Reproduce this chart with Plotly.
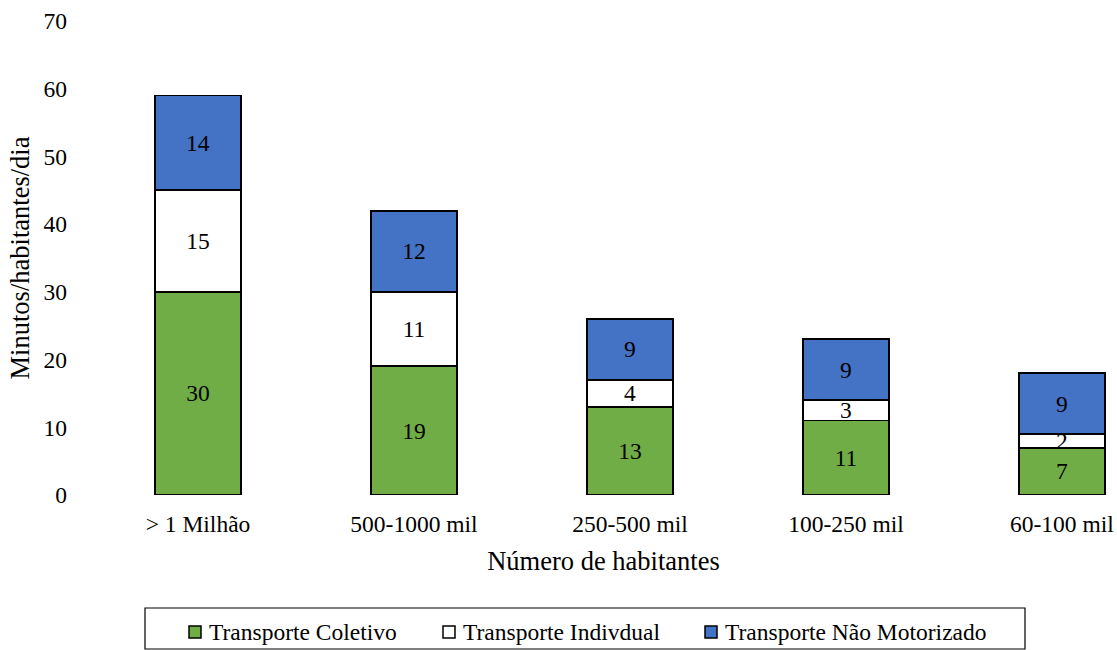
import plotly.graph_objects as go

# Population size classes
categories = ["> 1 Milhão", "500-1000 mil", "250-500 mil", "100-250 mil", "60-100 mil"]

# Minutes per inhabitant per day, by transport mode
coletivo = [30, 19, 13, 11, 7]
individual = [15, 11, 4, 3, 2]
nao_motorizado = [14, 12, 9, 9, 9]

series_names = ["Transporte Coletivo", "Transporte Indivdual", "Transporte Não Motorizado"]
series_values = [coletivo, individual, nao_motorizado]
series_colors = ["#70AD47", "#FFFFFF", "#4472C4"]

FONT = "Times New Roman, Liberation Serif, Tinos, DejaVu Serif, serif"
TICK_SIZE = 23.5
TITLE_SIZE = 26.5

W, H = 1117, 650
M_L, M_R, M_T, M_B = 90, 0, 21, 155
PLOT_W = W - M_L - M_R
PLOT_H = H - M_T - M_B


def px_x(px):
    return (px - M_L) / PLOT_W


def px_y(py):
    return (H - M_B - py) / PLOT_H


x_pos = list(range(len(categories)))

fig = go.Figure()
for name, values, color in zip(series_names, series_values, series_colors):
    fig.add_trace(go.Bar(
        x=x_pos,
        y=values,
        name=name,
        width=0.4,
        marker=dict(color=color, line=dict(color="black", width=1.8)),
        text=[str(v) for v in values],
        textposition="inside",
        insidetextanchor="middle",
        textangle=0,
        constraintext="none",
        textfont=dict(family=FONT, size=TICK_SIZE, color="black"),
        cliponaxis=False,
        showlegend=False,
    ))

# Legend drawn as a framed row of swatches and labels under the x-axis title
shapes = [dict(
    type="rect", xref="paper", yref="paper",
    x0=px_x(145), x1=px_x(1025), y0=px_y(608), y1=px_y(649),
    line=dict(color="black", width=1.2), fillcolor="rgba(0,0,0,0)",
)]
annotations = []
swatch_left = [189, 443, 705]
label_left = [207, 461, 723]
for name, color, sx, lx in zip(series_names, series_colors, swatch_left, label_left):
    shapes.append(dict(
        type="rect", xref="paper", yref="paper",
        x0=px_x(sx), x1=px_x(sx + 12), y0=px_y(638), y1=px_y(626),
        line=dict(color="black", width=1.5), fillcolor=color,
    ))
    annotations.append(dict(
        xref="paper", yref="paper", x=px_x(lx), y=px_y(632),
        xanchor="left", yanchor="middle", showarrow=False,
        text=name, font=dict(family=FONT, size=TICK_SIZE, color="black"),
    ))

fig.update_layout(
    barmode="stack",
    width=W,
    height=H,
    margin=dict(l=M_L, r=M_R, t=M_T, b=M_B),
    paper_bgcolor="white",
    plot_bgcolor="white",
    font=dict(family=FONT, size=TICK_SIZE, color="black"),
    showlegend=False,
    shapes=shapes,
    annotations=annotations,
    xaxis=dict(
        tickmode="array",
        tickvals=x_pos,
        ticktext=categories,
        range=[-0.5, 4.255],
        showgrid=False,
        showline=False,
        zeroline=False,
        ticks="",
        ticklabelstandoff=12,
        tickfont=dict(family=FONT, size=TICK_SIZE),
        title=dict(text="Número de habitantes", font=dict(family=FONT, size=TITLE_SIZE), standoff=15),
    ),
    yaxis=dict(
        range=[0, 70],
        tickvals=[0, 10, 20, 30, 40, 50, 60, 70],
        showgrid=False,
        showline=False,
        zeroline=False,
        ticks="",
        ticklabelstandoff=22,
        tickfont=dict(family=FONT, size=TICK_SIZE),
        title=dict(text="Minutos/habitantes/dia", font=dict(family=FONT, size=TITLE_SIZE), standoff=6),
    ),
)

fig.write_html("out.html")
